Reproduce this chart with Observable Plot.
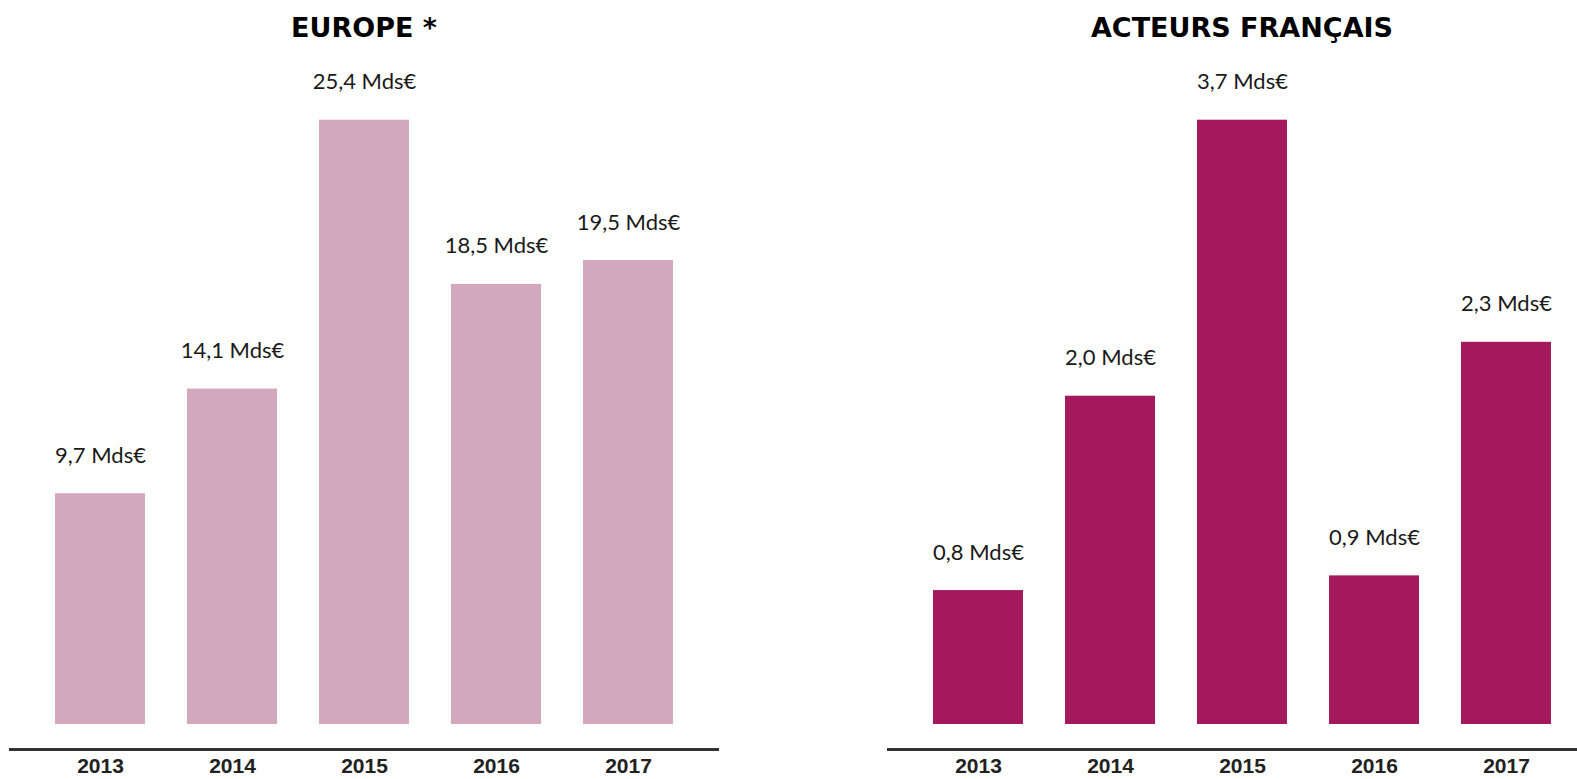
<!DOCTYPE html>
<html><head><meta charset="utf-8">
<script src="https://cdn.jsdelivr.net/npm/d3@7"></script>
<script src="https://cdn.jsdelivr.net/npm/@observablehq/plot@0.6"></script>
<style>
body{margin:0;background:#fff;overflow:hidden}
#wrap{position:relative;width:1577px;height:779px;overflow:hidden;background:#fff}
.panel{position:absolute;top:0}
.title{position:absolute;top:8px;font-family:"DejaVu Sans",sans-serif;font-weight:bold;font-size:27px;text-align:center;line-height:40px;color:#000;white-space:nowrap}
</style></head><body>
<div id="wrap"></div>
<script>
const years = ["2013", "2014", "2015", "2016", "2017"];
const europe = [9.7, 14.1, 25.4, 18.5, 19.5];
const france = [0.82, 2.01, 3.7, 0.91, 2.34];
const titles = ["EUROPE *", "ACTEURS FRANÇAIS"];
const colors = ["#D4A8BC", "#A3195B"];

const fmt = v => v.toFixed(1).replace(".", ",") + " Mds€";
const wrap = document.getElementById("wrap");

function panel(values, title, color, left, width, marginLeft, marginRight, xRange) {
  const data = years.map((y, i) => ({year: y, value: values[i]}));
  const svg = Plot.plot({
    width, height: 779,
    marginTop: 119.7, marginBottom: 30, marginLeft, marginRight,
    insetBottom: 25,
    x: {domain: years, range: xRange, paddingInner: 0.318, paddingOuter: 0.333, axis: null},
    y: {axis: null},
    style: {fontFamily: "Lato, sans-serif", background: "transparent", overflow: "visible"},
    marks: [
      Plot.barY(data, {x: "year", y: "value", fill: color}),
      Plot.text(data, {x: "year", y: "value", text: d => fmt(d.value), dy: -38, fontSize: 22, fill: "#1a1a1a"}),
      Plot.ruleY([0], {dy: 25, stroke: "#333", strokeWidth: 3}),
      Plot.axisX({tickSize: 0, tickPadding: 9, fontSize: 21, fontWeight: "bold", fontFamily: "Liberation Sans, Arial, sans-serif", fill: "#222", label: null})
    ]
  });
  svg.classList.add("panel");
  svg.style.left = left + "px";
  wrap.appendChild(svg);
  const t = document.createElement("div");
  t.className = "title";
  t.textContent = title;
  t.style.left = (left + (xRange[0] + Math.min(xRange[1], width - marginRight)) / 2 - 300) + "px";
  if (title === titles[1]) t.style.left = (left + (xRange[0] + xRange[1]) / 2 - 300) + "px";
  t.style.width = "600px";
  wrap.appendChild(t);
}

panel(europe, titles[0], colors[0], 0, 790, 9, 71, [9, 719]);
panel(france, titles[1], colors[1], 790, 787, 97, 0, [97, 807]);
</script>
</body></html>
